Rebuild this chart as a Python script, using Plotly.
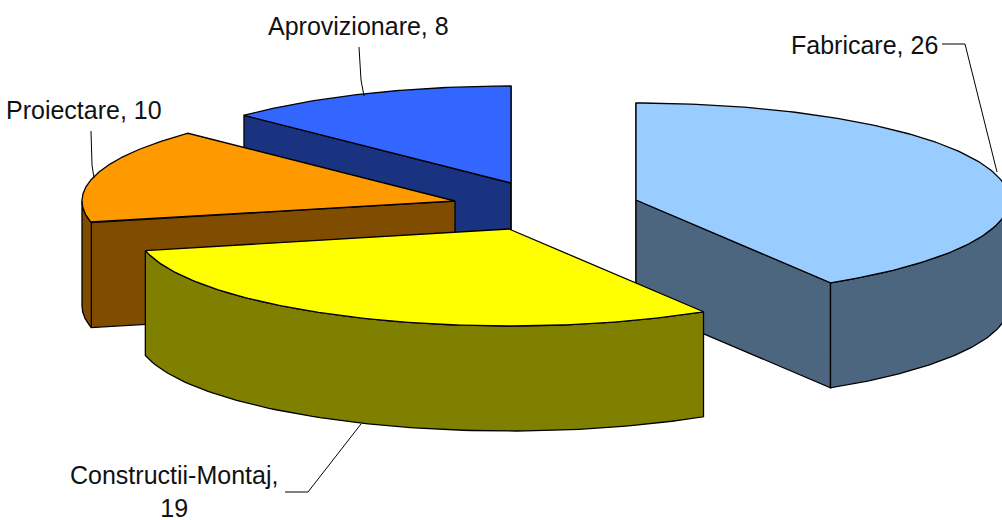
import numpy as np
import plotly.graph_objects as go

# Data
categories = ["Fabricare", "Constructii-Montaj", "Proiectare", "Aprovizionare"]
values = [26, 19, 10, 8]

# Styles and layout
top_colors = ["#99CCFF", "#FFFF00", "#FF9900", "#3366FF"]
side_colors = ["#4D6680", "#808000", "#804D00", "#1A3380"]
centers = {"Fabricare": (636, 200), "Constructii-Montaj": (509, 229),
           "Proiectare": (455, 201), "Aprovizionare": (511, 183)}
RX, RY, DEPTH = 373, 97, 105
draw_order = [0, 3, 2, 1]
label_texts = ["Fabricare, 26", "Constructii-Montaj,<br>19", "Proiectare, 10", "Aprovizionare, 8"]
label_pos = [(864, 45), (174, 491), (84, 110), (358, 26)]
leaders = [[(942, 44), (965, 44), (997, 172)],
           [(285, 492), (308, 492), (361, 424)],
           [(91, 131), (92, 165), (94, 178)],
           [(359, 47), (361, 80), (364, 96)]]

total = sum(values)
edges = np.concatenate([[0], np.cumsum(values)]) / total * 360


def ell(c, deg, dy=0.0):
    r = np.radians(deg)
    return c[0] + RX * np.sin(r), c[1] - RY * np.cos(r) + dy


fig = go.Figure()


def poly(xs, ys, color):
    fig.add_trace(go.Scatter(x=list(xs), y=list(ys), mode="lines", fill="toself",
                             fillcolor=color, line=dict(color="#000000", width=1.3),
                             hoverinfo="skip", showlegend=False))


for i in draw_order:
    c = centers[categories[i]]
    a0, a1 = edges[i], edges[i + 1]
    # radial faces seen from the front
    for a, vis in ((a0, np.sin(np.radians(a0)) <= 1e-9), (a1, np.sin(np.radians(a1)) >= -1e-9)):
        if vis:
            px, py = ell(c, a)
            poly([c[0], px, px, c[0], c[0]],
                 [c[1], py, py + DEPTH, c[1] + DEPTH, c[1]], side_colors[i])
    # outer wall
    s, e = max(a0, 90), min(a1, 270)
    if e > s:
        t = np.linspace(s, e, 80)
        x1, y1 = ell(c, t)
        x2, y2 = ell(c, t[::-1], DEPTH)
        poly(np.r_[x1, x2, x1[0]], np.r_[y1, y2, y1[0]], side_colors[i])
    # top
    t = np.linspace(a0, a1, 160)
    x, y = ell(c, t)
    poly(np.r_[c[0], x, c[0]], np.r_[c[1], y, c[1]], top_colors[i])

for pts in leaders:
    fig.add_trace(go.Scatter(x=[p[0] for p in pts], y=[p[1] for p in pts], mode="lines",
                             line=dict(color="#000000", width=1), hoverinfo="skip",
                             showlegend=False))

for txt, (x, y) in zip(label_texts, label_pos):
    fig.add_annotation(x=x, y=y, text=txt, showarrow=False, align="center",
                       font=dict(family="Liberation Sans", size=25, color="#111111"))

fig.update_layout(width=1002, height=520, margin=dict(l=0, r=0, t=0, b=0),
                  paper_bgcolor="white", plot_bgcolor="white",
                  xaxis=dict(range=[0, 1002], visible=False, fixedrange=True),
                  yaxis=dict(range=[520, 0], visible=False, fixedrange=True),
                  showlegend=False)
fig.write_html("out.html", config={"displayModeBar": False},
               post_script="document.body.style.margin='0';")
